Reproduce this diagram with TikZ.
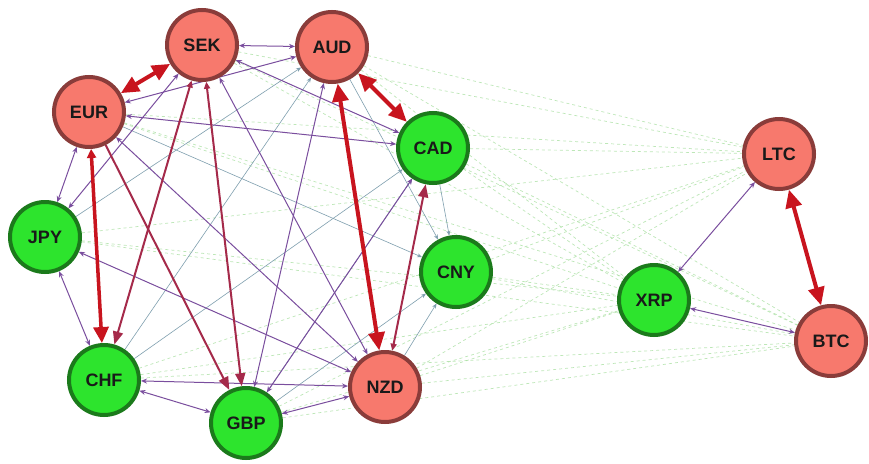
\documentclass[tikz,border=0pt]{standalone}
\usepackage{fontspec}
\setmainfont{Liberation Sans}
\usetikzlibrary{arrows.meta}
\pgfdeclarelayer{background}
\pgfsetlayers{background,main}
\definecolor{nred}{HTML}{F7796D}
\definecolor{nredb}{HTML}{8A3C3A}
\definecolor{ngreen}{HTML}{2DE42D}
\definecolor{ngreenb}{HTML}{1B7A1B}
\definecolor{ered}{HTML}{C8141E}
\definecolor{emed}{HTML}{A52A4A}
\definecolor{epur}{HTML}{7A4E9E}
\definecolor{egray}{HTML}{7F9FAF}
\definecolor{egrn}{HTML}{A8E0A0}
\tikzset{
  basenode/.style={circle, line width=4pt, minimum size=70pt, inner sep=0pt, text=black!90, font=\bfseries\fontsize{18}{20}\selectfont},
  rnode/.style={basenode, fill=nred, draw=nredb},
  gnode/.style={basenode, fill=ngreen, draw=ngreenb},
  bigred/.style={draw=ered, line width=4pt, {Triangle[length=18pt,width=16pt]}-{Triangle[length=18pt,width=16pt]}},
  bigredone/.style={draw=ered, line width=3.5pt, {Triangle[length=9pt,width=9pt]}-{Triangle[length=16pt,width=15pt]}},
  medred/.style={draw=emed, line width=2pt, {Triangle[length=7pt,width=6pt]}-{Triangle[length=13pt,width=10pt]}},
  medredone/.style={draw=emed, line width=2pt, -{Triangle[length=13pt,width=10pt]}},
  purp/.style={draw=epur, line width=1pt, {Stealth[length=6pt,width=5pt]}-{Stealth[length=6pt,width=5pt]}},
  grayl/.style={draw=egray, line width=0.6pt, -{Stealth[length=5pt,width=4pt]}},
  grnd/.style={draw=egrn, line width=0.7pt, dashed, opacity=0.75}
}
\begin{document}
\begin{tikzpicture}[x=1pt,y=-1pt]
\useasboundingbox (0,0) rectangle (869,463);
% nodes
\node[rnode] (SEK) at (202,45) {SEK};
\node[rnode] (AUD) at (332,47) {AUD};
\node[rnode] (EUR) at (89,112) {EUR};
\node[gnode] (CAD) at (433,148) {CAD};
\node[gnode] (JPY) at (45,237) {JPY};
\node[gnode] (CNY) at (456,272) {CNY};
\node[gnode] (CHF) at (104,380) {CHF};
\node[gnode] (GBP) at (246,423) {GBP};
\node[rnode] (NZD) at (385,387) {NZD};
\node[rnode] (LTC) at (779,154) {LTC};
\node[gnode] (XRP) at (654,300) {XRP};
\node[rnode] (BTC) at (831,341) {BTC};
\begin{pgfonlayer}{background}
\fill[white] (0,0) rectangle (869,463);
% light green dashed links
\foreach \a in {SEK,AUD,EUR,CAD,JPY,CNY,CHF,GBP,NZD}{
  \foreach \b in {LTC,XRP,BTC}{
    \draw[grnd] (\a) -- (\b);
  }
}
% gray thin links
\draw[grayl] (CAD) -- (CNY);
\draw[grayl] (AUD) -- (CNY);
\draw[grayl] (GBP) -- (CNY);
\draw[grayl] (NZD) -- (CNY);
\draw[grayl] (EUR) -- (CNY);
\draw[grayl] (CHF) -- (CAD);
\draw[grayl] (CHF) -- (AUD);
\draw[grayl] (JPY) -- (AUD);
\draw[grayl] (GBP) -- (CAD);
% purple links
\draw[purp] (SEK) -- (AUD);
\draw[purp] (EUR) -- (AUD);
\draw[purp] (EUR) -- (CAD);
\draw[purp] (SEK) -- (CAD);
\draw[purp] (EUR) -- (JPY);
\draw[purp] (JPY) -- (CHF);
\draw[purp] (JPY) -- (NZD);
\draw[purp] (JPY) -- (SEK);
\draw[purp] (CHF) -- (NZD);
\draw[purp] (CHF) -- (GBP);
\draw[purp] (GBP) -- (NZD);
\draw[purp] (SEK) -- (NZD);
\draw[purp] (EUR) -- (NZD);
\draw[purp] (AUD) -- (GBP);
\draw[purp] (CAD) -- (GBP);
\draw[purp] (LTC) -- (XRP);
\draw[purp] (XRP) -- (BTC);
% medium red links
\draw[medredone] (EUR) -- (GBP);
\draw[medred] (SEK) -- (CHF);
\draw[medred] (SEK) -- (GBP);
\draw[medred] (NZD) -- (CAD);
% thick red links
\draw[bigred] (EUR) -- (SEK);
\draw[bigred] (AUD) -- (CAD);
\draw[bigred] (AUD) -- (NZD);
\draw[bigredone] (EUR) -- (CHF);
\draw[bigred] (LTC) -- (BTC);
\end{pgfonlayer}
\end{tikzpicture}
\end{document}
